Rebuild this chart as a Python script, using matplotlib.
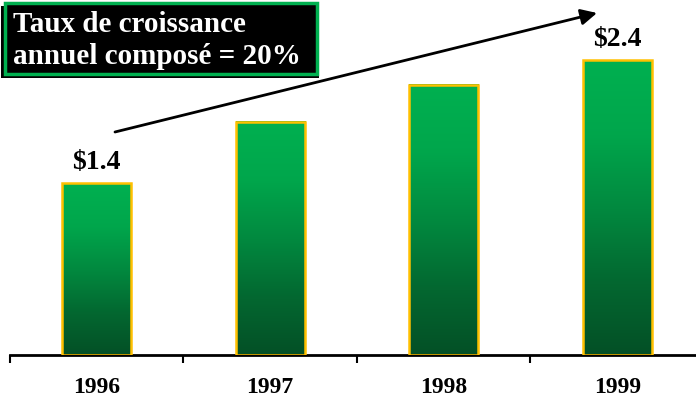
import matplotlib.pyplot as plt
import numpy as np
from matplotlib.patches import Rectangle

years = ['1996', '1997', '1998', '1999']
revenue = [1.4, 1.9, 2.2, 2.4]
value_labels = {0: '$1.4', 3: '$2.4'}
cagr_text = 'Taux de croissance\nannuel composé = 20%'

W, H = 696, 403
plt.rcParams['font.family'] = ['Liberation Serif', 'DejaVu Serif']

fig = plt.figure(figsize=(W / 100, H / 100), dpi=100)
ax = fig.add_axes([10 / W, 48 / H, 686 / W, 344 / H])

x = np.arange(len(years))
bar_w = 0.4
top_green = np.array([0, 176, 80]) / 255
bottom_green = np.array([4, 80, 38]) / 255
# bars keep their light green near the top and darken towards the base
t = np.linspace(0, 1, 256)
f = np.interp(t, [0, 0.25, 0.5, 0.75, 1], [0, 0.25, 0.6, 0.9, 1])[:, None, None]
grad_img = bottom_green * (1 - f) + top_green * f

for xi, v in zip(x, revenue):
    ax.imshow(grad_img, extent=(xi - bar_w / 2, xi + bar_w / 2, 0, v),
              origin='lower', aspect='auto', zorder=2, interpolation='bilinear')
ax.bar(x, revenue, width=bar_w, facecolor='none', edgecolor='#ffc000',
       linewidth=1.8, zorder=3)

for i, txt in value_labels.items():
    ax.annotate(txt, (x[i], revenue[i]), xytext=(0, 6), textcoords='offset points',
                ha='center', va='bottom', fontsize=20, fontweight='bold')

ax.set_xlim(-0.5, 3.454)
ax.set_ylim(0, 2.8)
for s in ['left', 'right', 'top']:
    ax.spines[s].set_visible(False)
ax.spines['bottom'].set_linewidth(2)
ax.set_yticks([])
# tick marks between categories, year labels centred under the bars
ax.set_xticks(x - 0.5)
ax.set_xticklabels([])
ax.tick_params(axis='x', which='major', length=6, width=1.5, direction='out')
ax.set_xticks(x, minor=True)
ax.set_xticklabels(years, minor=True, fontsize=17, fontweight='bold')
ax.tick_params(axis='x', which='minor', length=0, pad=16)

# growth arrow
ax.annotate('', xy=(597, H - 13), xycoords='figure pixels',
            xytext=(115, H - 132), textcoords='figure pixels',
            arrowprops=dict(arrowstyle='-|>', color='black', lw=2,
                            mutation_scale=24, shrinkA=0, shrinkB=0))

# CAGR callout box
fig.add_artist(Rectangle((1 / W, (H - 78) / H), 318 / W, 72 / H,
                         transform=fig.transFigure, facecolor='black',
                         edgecolor='none', zorder=5))
fig.add_artist(Rectangle((5 / W, (H - 74) / H), 312 / W, 71 / H,
                         transform=fig.transFigure, facecolor='black',
                         edgecolor='#00b050', linewidth=2.5, zorder=6))
line1, line2 = cagr_text.split('\n')
fig.text(13 / W, (H - 32) / H, line1, color='white', fontsize=21,
         fontweight='bold', va='baseline', ha='left', zorder=7)
fig.text(13 / W, (H - 64) / H, line2, color='white', fontsize=21,
         fontweight='bold', va='baseline', ha='left', zorder=7)

fig.savefig('out.png', dpi=100)
